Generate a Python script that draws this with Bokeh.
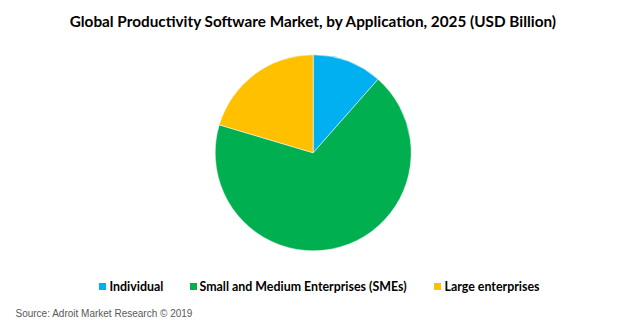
from bokeh.plotting import figure
from bokeh.models import Range1d, ColumnDataSource
from bokeh.core.properties import value
from bokeh.embed import file_html
from bokeh.resources import INLINE
import math

# Data (share of market, %)
categories = ["Individual", "Small and Medium Enterprises (SMEs)", "Large enterprises"]
shares = [11.5, 68.1, 20.4]
colors = ["#00B0F0", "#00B050", "#FFC000"]

title_text = "Global Productivity Software Market, by Application, 2025 (USD Billion)"
source_text = "Source: Adroit Market Research \u00a9 2019"

W, H = 626, 323
p = figure(width=W, height=H, output_backend="svg", toolbar_location=None,
           x_range=Range1d(0, W), y_range=Range1d(0, H), min_border=0)
p.axis.visible = False
p.grid.visible = False
p.outline_line_color = None
p.background_fill_color = "white"
p.border_fill_color = "white"

def Y(px):
    return H - px

# pie
total = sum(shares)
starts, ends = [], []
a = math.pi / 2
for s in shares:
    starts.append(a)
    a = a - s / total * 2 * math.pi
    ends.append(a)
src = ColumnDataSource(dict(start=starts, end=ends, color=colors, cat=categories))
p.wedge(x=312.7, y=Y(152.3), radius=98, start_angle="start", end_angle="end",
        direction="clock", fill_color="color", line_color="white", line_width=0.5, source=src)

# title
p.text(x=[313], y=[Y(20)], text=[title_text], text_font=value("Lato"), text_font_style="bold",
       text_font_size="15.3px", text_align="center", text_baseline="middle", text_color="#000000")

# legend
sq_x = [102, 193, 437]
tx_x = [109, 199, 444]
ly = Y(286)
p.rect(x=sq_x, y=[ly] * 3, width=7, height=7, fill_color=colors, line_color=None)
p.text(x=tx_x, y=[ly] * 3, text=categories, text_font=value("Lato"), text_font_style="bold",
       text_font_size="12.4px", text_align="left", text_baseline="middle", text_color="#000000")

# source
p.text(x=[15], y=[Y(313)], text=[source_text], text_font=value("Liberation Sans"),
       text_font_size="10px", text_align="left", text_baseline="middle", text_color="#595959")

open("out.html", "w").write(file_html(p, INLINE))
